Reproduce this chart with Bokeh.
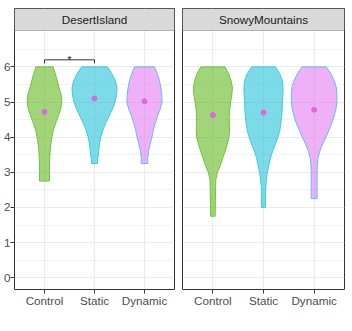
from bokeh.plotting import figure
from bokeh.layouts import row
from bokeh.models import Range1d, FixedTicker, BoxAnnotation, Label
from bokeh.core.properties import value
from bokeh.embed import file_html
from bokeh.resources import INLINE

panels = ["DesertIsland", "SnowyMountains"]
conditions = ["Control", "Static", "Dynamic"]
y_ticks = [0, 1, 2, 3, 4, 5, 6]
y_minor = [0.5, 1.5, 2.5, 3.5, 4.5, 5.5, 6.5]

# violin outlines: response level and relative density (1 = widest violin)
di_control_y = [6.0, 5.8, 5.6, 5.4, 5.2, 5.0, 4.8, 4.6, 4.4, 4.2, 4.0, 3.8, 3.6, 3.4, 3.2, 3.0, 2.75]
di_control_w = [0.38, 0.48, 0.57, 0.65, 0.74, 0.77, 0.72, 0.61, 0.50, 0.39, 0.33, 0.28, 0.25, 0.23, 0.22, 0.22, 0.22]
di_static_y = [6.0, 5.8, 5.6, 5.4, 5.2, 5.0, 4.8, 4.6, 4.4, 4.2, 4.0, 3.8, 3.6, 3.4, 3.25]
di_static_w = [0.57, 0.78, 0.93, 1.00, 0.98, 0.91, 0.80, 0.65, 0.50, 0.37, 0.28, 0.22, 0.19, 0.15, 0.13]
di_dynamic_y = [6.0, 5.8, 5.6, 5.4, 5.2, 5.0, 4.8, 4.6, 4.4, 4.2, 4.0, 3.8, 3.6, 3.4, 3.25]
di_dynamic_w = [0.45, 0.57, 0.67, 0.73, 0.77, 0.78, 0.70, 0.58, 0.48, 0.39, 0.33, 0.25, 0.18, 0.14, 0.15]

sm_control_y = [6.0, 5.8, 5.6, 5.4, 5.2, 5.0, 4.8, 4.6, 4.4, 4.2, 4.0, 3.8, 3.6, 3.4, 3.2, 3.0, 2.8, 2.6, 2.2, 1.75]
sm_control_w = [0.53, 0.70, 0.80, 0.86, 0.83, 0.78, 0.74, 0.72, 0.72, 0.73, 0.71, 0.63, 0.54, 0.43, 0.33, 0.20, 0.13, 0.12, 0.11, 0.10]
sm_static_y = [6.0, 5.8, 5.6, 5.4, 5.2, 5.0, 4.8, 4.6, 4.4, 4.2, 4.0, 3.8, 3.6, 3.4, 3.2, 3.0, 2.8, 2.6, 2.3, 2.0]
sm_static_w = [0.52, 0.72, 0.83, 0.86, 0.85, 0.83, 0.82, 0.80, 0.76, 0.72, 0.63, 0.52, 0.40, 0.30, 0.24, 0.17, 0.13, 0.10, 0.09, 0.09]
sm_dynamic_y = [6.0, 5.8, 5.6, 5.4, 5.2, 5.0, 4.8, 4.6, 4.4, 4.2, 4.0, 3.8, 3.6, 3.4, 3.2, 3.0, 2.6, 2.25]
sm_dynamic_w = [0.53, 0.74, 0.89, 0.98, 1.00, 1.00, 0.96, 0.88, 0.78, 0.65, 0.52, 0.37, 0.25, 0.17, 0.14, 0.13, 0.13, 0.13]

means_di = [4.72, 5.10, 5.02]
means_sm = [4.63, 4.70, 4.78]

sig_from, sig_to = 1, 2      # Control vs Static, DesertIsland
sig_y, sig_tip = 6.2, 6.1
sig_label = "*"

fill_colors = ["#64B921", "#26C1D9", "#E37DF2"]
line_colors = ["#6FC43E", "#3CCFD2", "#5FBDFA"]
mean_color = "#E066E0"

violins = {
    "DesertIsland": [(di_control_y, di_control_w), (di_static_y, di_static_w), (di_dynamic_y, di_dynamic_w)],
    "SnowyMountains": [(sm_control_y, sm_control_w), (sm_static_y, sm_static_w), (sm_dynamic_y, sm_dynamic_w)],
}
means = {"DesertIsland": means_di, "SnowyMountains": means_sm}

FONT = "Liberation Sans"
Y0, Y1 = -0.335, 7.661
STRIP_BOTTOM = 7.035


def make_panel(name, first):
    kw = dict(width=178) if first else dict(frame_width=162)
    p = figure(frame_height=281, **kw,
               x_range=Range1d(0.4, 3.6), y_range=Range1d(Y0, Y1),
               output_backend="svg", toolbar_location=None,
               min_border_left=4, min_border_right=4 if first else 8,
               min_border_top=8, min_border_bottom=0,
               background_fill_color="white", border_fill_color="white")
    p.outline_line_color = "#333333"
    p.outline_line_width = 1

    p.xgrid.ticker = FixedTicker(ticks=[1, 2, 3])
    p.xgrid.grid_line_color = "#EBEBEB"
    p.xgrid.grid_line_width = 1.2
    p.ygrid.ticker = FixedTicker(ticks=y_ticks, minor_ticks=y_minor)
    p.ygrid.grid_line_color = "#EBEBEB"
    p.ygrid.grid_line_width = 1.2
    p.ygrid.minor_grid_line_color = "#EBEBEB"
    p.ygrid.minor_grid_line_width = 0.6

    xa = p.xaxis[0]
    xa.ticker = FixedTicker(ticks=[1, 2, 3])
    xa.major_label_overrides = {i + 1: c for i, c in enumerate(conditions)}
    xa.major_tick_out = 4
    xa.major_tick_in = 0
    xa.minor_tick_out = 0
    xa.minor_tick_in = 0
    xa.axis_line_color = None
    xa.major_tick_line_color = "#333333"
    xa.major_label_text_font = FONT
    xa.major_label_text_font_size = "11.7px"
    xa.major_label_text_color = "#4D4D4D"
    xa.major_label_standoff = 0

    ya = p.yaxis[0]
    if first:
        ya.ticker = FixedTicker(ticks=y_ticks)
        ya.major_tick_out = 4
        ya.major_tick_in = 0
        ya.minor_tick_out = 0
        ya.minor_tick_in = 0
        ya.axis_line_color = None
        ya.major_tick_line_color = "#333333"
        ya.major_label_text_font = FONT
        ya.major_label_text_font_size = "11.7px"
        ya.major_label_text_color = "#4D4D4D"
        ya.major_label_standoff = 0
    else:
        ya.visible = False

    for i, (ys, ws) in enumerate(violins[name]):
        c = i + 1
        xs = [c + 0.45 * w for w in ws] + [c - 0.45 * w for w in ws[::-1]]
        yy = list(ys) + list(ys[::-1])
        p.patch(xs, yy, fill_color=fill_colors[i], fill_alpha=0.6,
                line_color=line_colors[i], line_width=1)

    p.scatter([1, 2, 3], means[name], size=5, fill_color=mean_color,
              line_color=mean_color)

    if first:
        p.line([sig_from, sig_from, sig_to, sig_to], [sig_tip, sig_y, sig_y, sig_tip],
               line_color="#333333", line_width=1)
        p.text([(sig_from + sig_to) / 2], [sig_y], text=[sig_label],
               text_align="center", text_baseline="alphabetic",
               text_font=value(FONT), text_font_size="11px", text_color="#1A1A1A")

    p.add_layout(BoxAnnotation(bottom=STRIP_BOTTOM, fill_color="#D9D9D9", fill_alpha=1,
                               line_color="#333333", line_width=1))
    p.add_layout(Label(x=2, y=(STRIP_BOTTOM + Y1) / 2, text=name, text_align="center",
                       text_baseline="middle", text_font=FONT,
                       text_font_size="11.7px", text_color="#1A1A1A"))
    return p


p1 = make_panel("DesertIsland", True)
p2 = make_panel("SnowyMountains", False)
layout = row(p1, p2)

open("out.html", "w").write(file_html(layout, INLINE))
